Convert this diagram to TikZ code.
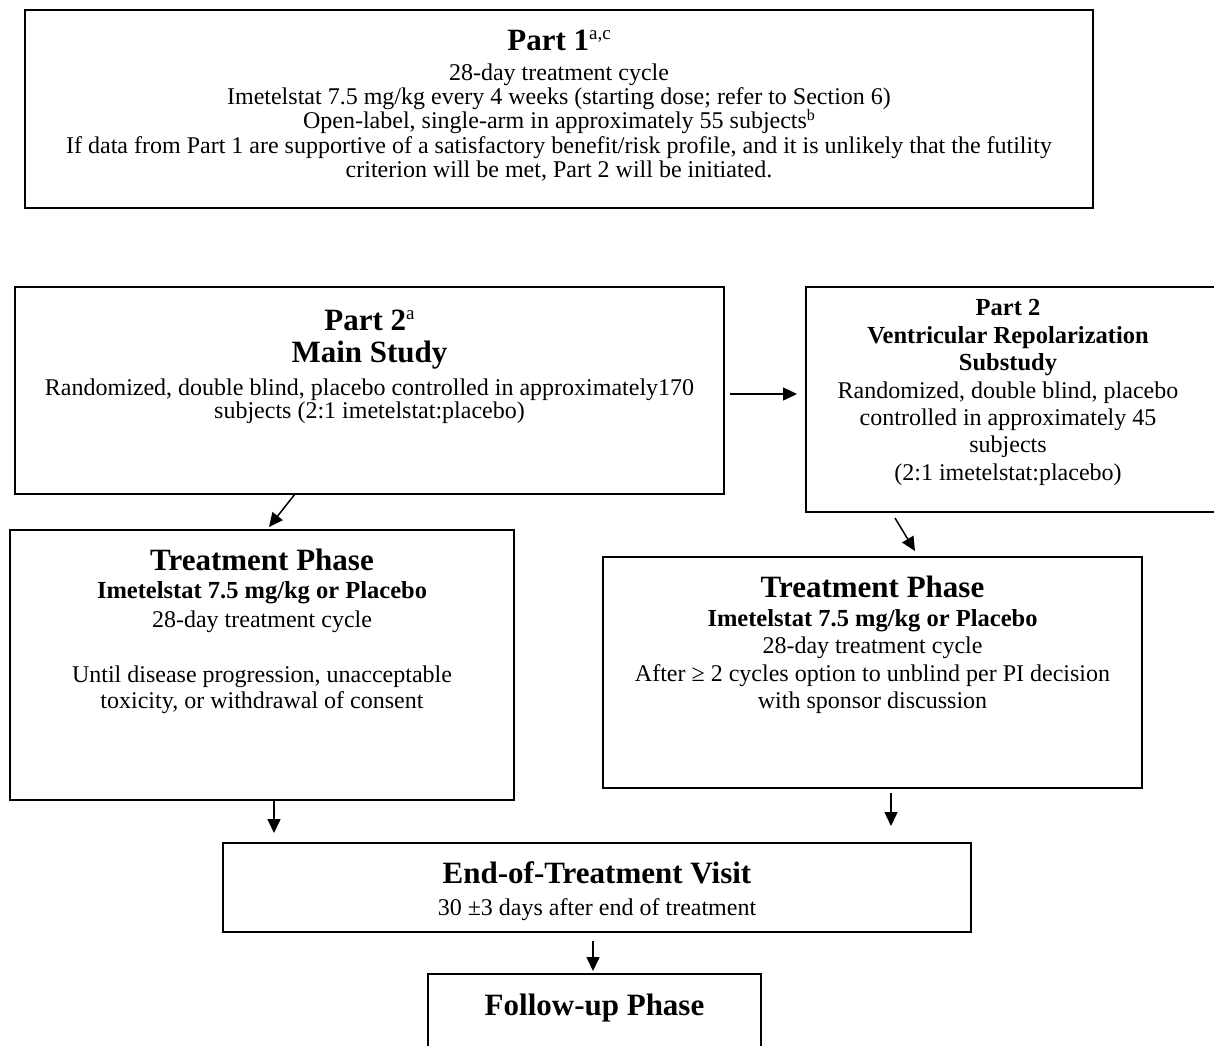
\documentclass[tikz,border=0pt]{standalone}
\usepackage{fontspec}
\setmainfont{Liberation Serif}
\usetikzlibrary{arrows.meta,calc}
\newcommand{\supx}[2]{\raisebox{#1}{\fontsize{#2}{#2}\selectfont\mdseries\kern1pt}}
\newcommand{\supt}[1]{\raisebox{11pt}{\fontsize{19}{19}\selectfont\mdseries #1}}
\newcommand{\supb}[1]{\raisebox{8pt}{\fontsize{16}{16}\selectfont\mdseries #1}}
\tikzset{
  box/.style={draw,line width=1.5pt,inner sep=0pt,outer sep=0pt},
  ttl/.style={anchor=base,inner sep=0pt,font=\fontsize{31}{31}\selectfont\bfseries},
  sub/.style={anchor=base,inner sep=0pt,font=\fontsize{24.5}{24.5}\selectfont\bfseries},
  bdy/.style={anchor=base,inner sep=0pt,font=\fontsize{24}{24}\selectfont},
  arr/.style={line width=1.5pt,-{Triangle[length=14pt,width=13pt]}}
}
\begin{document}
\begin{tikzpicture}[x=1pt,y=-1pt]
\useasboundingbox[fill=white] (0,0) rectangle (1214,1045);
% boxes
\node[box,line width=2pt,minimum width=1068pt,minimum height=198pt] (p1) at (559,109) {};
\node[box,minimum width=709pt,minimum height=207pt] (p2m) at (369.5,390.5) {};
\node[box,minimum width=410pt,minimum height=225pt] (p2s) at (1011,399.5) {};
\node[box,minimum width=504pt,minimum height=270pt] (tpl) at (262,665) {};
\node[box,minimum width=539pt,minimum height=231pt] (tpr) at (872.5,672.5) {};
\node[box,minimum width=748pt,minimum height=89pt] (eot) at (597,887.5) {};
\node[box,minimum width=333pt,minimum height=86pt] (fu) at (594.5,1017) {};
% Part 1 text
\node[ttl] (p1t) at (559,50) {Part 1\supt{a,c}};
\node[bdy] (p1a) at (559,80) {28-day treatment cycle};
\node[bdy] (p1b) at (559,104) {Imetelstat 7.5 mg/kg every 4 weeks (starting dose; refer to Section 6)};
\node[bdy] (p1c) at (559,128) {Open-label, single-arm in approximately 55 subjects\supb{b}};
\node[bdy] (p1d) at (559,153) {If data from Part 1 are supportive of a satisfactory benefit/risk profile, and it is unlikely that the futility};
\node[bdy] (p1e) at (559,177) {criterion will be met, Part 2 will be initiated.};
% Part 2 main
\node[ttl] (p2mt) at (369.5,330) {Part 2\supt{a}};
\node[ttl] (p2mu) at (369.5,362) {Main Study};
\node[bdy] (p2ma) at (369.5,395) {Randomized, double blind, placebo controlled in approximately170};
\node[bdy] (p2mb) at (369.5,418) {subjects (2:1 imetelstat:placebo)};
% Part 2 substudy
\node[sub] (p2st) at (1008,315) {Part 2};
\node[sub] (p2su) at (1008,343) {Ventricular Repolarization};
\node[sub] (p2sv) at (1008,370) {Substudy};
\node[bdy] (p2sa) at (1008,398) {Randomized, double blind, placebo};
\node[bdy] (p2sb) at (1008,425) {controlled in approximately 45};
\node[bdy] (p2sc) at (1008,452) {subjects};
\node[bdy] (p2sd) at (1008,480) {(2:1 imetelstat:placebo)};
% Treatment left
\node[ttl] (tplt) at (262,570) {Treatment Phase};
\node[sub] (tpla) at (262,598) {Imetelstat 7.5 mg/kg or Placebo};
\node[bdy] (tplb) at (262,627) {28-day treatment cycle};
\node[bdy] (tplc) at (262,682) {Until disease progression, unacceptable};
\node[bdy] (tpld) at (262,708) {toxicity, or withdrawal of consent};
% Treatment right
\node[ttl] (tprt) at (872.5,597) {Treatment Phase};
\node[sub] (tpra) at (872.5,626) {Imetelstat 7.5 mg/kg or Placebo};
\node[bdy] (tprb) at (872.5,653) {28-day treatment cycle};
\node[bdy] (tprc) at (872.5,681) {After ≥ 2 cycles option to unblind per PI decision};
\node[bdy] (tprd) at (872.5,708) {with sponsor discussion};
% EOT
\node[ttl] (eott) at (597,883) {End-of-Treatment Visit};
\node[bdy] (eota) at (597,915) {30 ±3 days after end of treatment};
% Follow-up
\node[ttl] (fut) at (594.5,1015) {Follow-up Phase};
% connectors
\draw[arr] ($(p2m.east)+(6,3.5)$) -- ($(p2s.west)+(-9,-5.5)$);
\draw[arr] ($(p2m.south)+(-74.5,0)$) -- ($(tpl.north)+(7,-3)$);
\draw[arr] ($(p2s.south)+(-116,6)$) -- ($(tpr.north)+(42.5,-6)$);
\coordinate (c4) at ($(tpl.south)+(12,0)$);
\coordinate (e4) at ($(eot.north)+(0,-10)$);
\draw[arr] (c4) -- (c4 |- e4);
\coordinate (c5) at ($(tpr.south)+(18.5,5)$);
\coordinate (e5) at ($(eot.north)+(0,-17)$);
\draw[arr] (c5) -- (c5 |- e5);
\draw[arr] ($(eot.south)+(-4,9)$) -- ($(fu.north)+(-1.5,-3)$);
\end{tikzpicture}
\end{document}
